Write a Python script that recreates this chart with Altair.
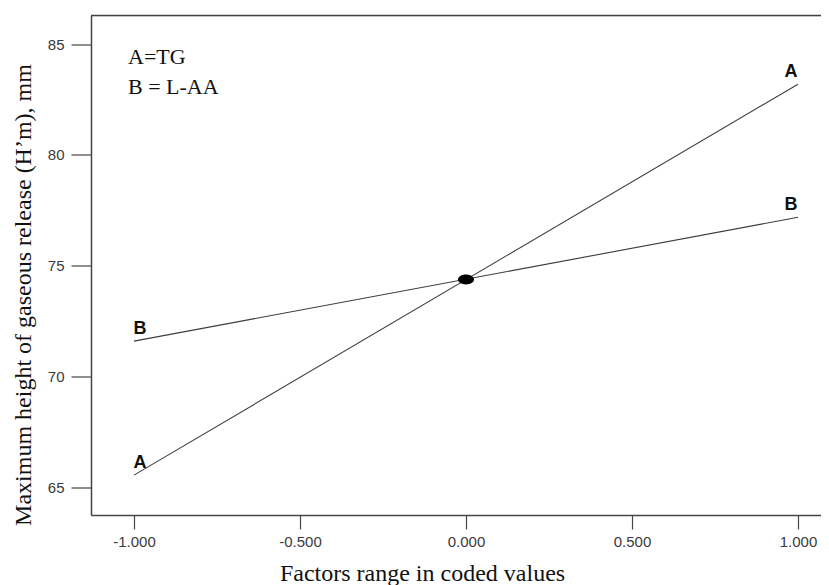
import altair as alt
import pandas as pd

# coded factor levels and predicted responses
x_levels = [-1.0, 1.0]
factor_names = ["A", "B"]
response_A = [65.54, 83.19]
response_B = [71.59, 77.18]
center_x = [0.0]
center_y = [74.37]
y_ticks = [65, 70, 75, 80, 85]
x_ticks = [-1.0, -0.5, 0.0, 0.5, 1.0]
legend_lines = ["A=TG", "B = L-AA"]

rows = []
for name, vals in zip(factor_names, [response_A, response_B]):
    for xv, yv in zip(x_levels, vals):
        rows.append({"factor": name, "x": xv, "y": yv})
lines_df = pd.DataFrame(rows)
center_df = pd.DataFrame({"x": center_x, "y": center_y})

W, H = 730, 499.5
xs = alt.Scale(domain=[-1.1295, 1.0693], nice=False, zero=False)
ys = alt.Scale(domain=[63.74, 86.29], nice=False, zero=False)

gray = "#454545"

x_enc = alt.X("x:Q", scale=xs, axis=alt.Axis(
    values=x_ticks, grid=False, tickSize=14, tickColor=gray,
    labelExpr="datum.value < 0 ? '-' + format(-datum.value, '.3f') : format(datum.value, '.3f')",
    domainColor=gray, domainWidth=1.5, tickWidth=1.2,
    labelFont="Liberation Sans", labelFontSize=15, labelColor="#3a3a3a", labelPadding=5,
    title="Factors range in coded values", titleFont="Liberation Serif",
    titleFontSize=24, titleFontWeight="normal", titleColor="#111",
    titleX=331, titleY=65, titleAnchor="start", titleAlign="center", titleBaseline="alphabetic"))
y_enc = alt.Y("y:Q", scale=ys, axis=alt.Axis(
    values=y_ticks, grid=False, tickSize=20, tickColor=gray,
    domainColor=gray, domainWidth=1.5, tickWidth=1.2,
    labelFont="Liberation Sans", labelFontSize=15, labelColor="#3a3a3a", labelPadding=7,
    title="Maximum height of gaseous release (H’m), mm", titleFont="Liberation Serif",
    titleFontSize=24, titleFontWeight="normal", titleColor="#111",
    titleX=-61, titleY=279, titleAngle=-90, titleAlign="center", titleBaseline="alphabetic"))

lines = alt.Chart(lines_df).mark_line(color="#3c3c3c", strokeWidth=1.1).encode(
    x=x_enc, y=y_enc, detail="factor:N")

labels_left = alt.Chart(lines_df).transform_filter("datum.x < 0").mark_text(
    font="Liberation Sans", fontWeight="bold", fontSize=18, color="#111",
    dx=6, dy=-12).encode(x=alt.X("x:Q", scale=xs), y=alt.Y("y:Q", scale=ys), text="factor:N")
labels_right = alt.Chart(lines_df).transform_filter("datum.x > 0").mark_text(
    font="Liberation Sans", fontWeight="bold", fontSize=18, color="#111",
    dx=-7, dy=-12).encode(x=alt.X("x:Q", scale=xs), y=alt.Y("y:Q", scale=ys), text="factor:N")

center = alt.Chart(center_df).mark_point(
    shape="M-1,0 A1,0.62 0 1,1 1,0 A1,0.62 0 1,1 -1,0 Z",
    filled=True, color="#000", opacity=1, size=256).encode(
    x=alt.X("x:Q", scale=xs), y=alt.Y("y:Q", scale=ys))

top_frame = alt.Chart(center_df).mark_rule(color=gray, strokeWidth=1.5).encode(
    x=alt.value(0), x2=alt.value(W + 10), y=alt.value(0))

legend1 = alt.Chart(center_df).mark_text(
    font="Liberation Serif", fontSize=22, color="#111", align="left", baseline="alphabetic").encode(
    x=alt.value(37), y=alt.value(48), text=alt.value(legend_lines[0]))
legend2 = alt.Chart(center_df).mark_text(
    font="Liberation Serif", fontSize=22, color="#111", align="left", baseline="alphabetic").encode(
    x=alt.value(37), y=alt.value(78), text=alt.value(legend_lines[1]))

chart = alt.layer(top_frame, lines, center, labels_left, labels_right, legend1, legend2).properties(
    width=W, height=H,
    autosize=alt.AutoSizeParams(type="none"),
    padding={"left": 83, "top": 7.5, "right": 0, "bottom": 70},
).configure_view(stroke=None).configure(background="white")

chart.save("out.html", embed_options={"renderer": "svg", "actions": False})
